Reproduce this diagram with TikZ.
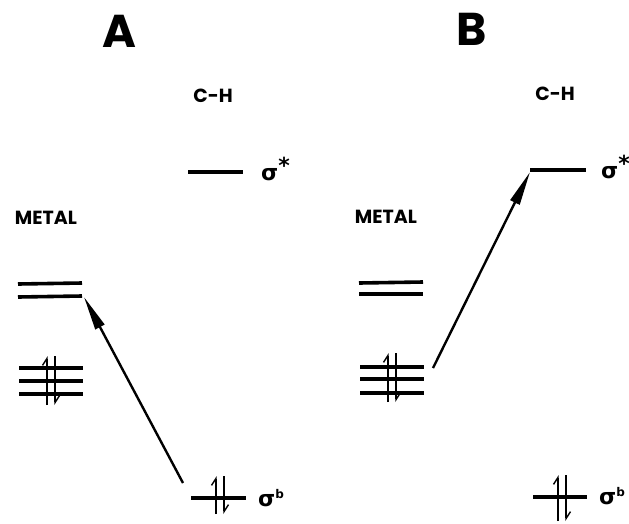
\documentclass[tikz,border=0pt]{standalone}
\usepackage{fontspec}
\setmainfont{Poppins}
\newfontfamily\greekfont{DejaVu Sans}
\usetikzlibrary{arrows.meta}

\begin{document}
\begin{tikzpicture}[x=1pt,y=-1pt,
  level/.style={line width=3.6pt},
  spin/.style={line width=1.4pt,-{Straight Barb[harpoon,length=7pt,width=9pt,line width=1.4pt]}},
  excite/.style={line width=2.4pt,-{Triangle[length=34pt,width=10pt]}},
  panel/.style={font=\fontsize{46}{46}\selectfont\bfseries},
  head/.style={font=\fontsize{19}{19}\selectfont\bfseries, inner sep=0pt},
  orb/.style={font=\greekfont\bfseries\fontsize{22}{22}\selectfont, anchor=west, inner sep=0pt},
  pics/epair/.style n args={2}{code={
    \draw[spin] (0,#2) -- (0,-#1);
    \draw[spin] (8,-#1) -- (8,#2);
  }}
]
\useasboundingbox (0,0) rectangle (629,523);

% ---------------- panel A ----------------
\node[panel] (titleA) at (119,31) {A};
\node[head] (chA) at (213,96) {C-H};
\node[head] (metalA) at (46,218) {METAL};

% C-H antibonding level
\draw[level] (188,172) -- (243,172);
\node[orb] (sstarA) at (261,169) {σ\raisebox{0.3em}{\fontsize{22}{22}\selectfont *}};

% empty metal levels
\draw[level] (18,284) -- (82,283);
\draw[level] (18,297) -- (82,296);
% filled metal levels
\draw[level] (19,368) -- (83,368);
\draw[level] (19,381) -- (83,381);
\draw[level] (19,394) -- (83,394);
\pic at (47,381) {epair={25}{24}};

% C-H bonding level
\draw[level] (191,498) -- (246,498);
\pic at (216,496) {epair={20}{18}};
\node[orb] (sbA) at (258,498) {σ\raisebox{0.4em}{\fontsize{12}{12}\selectfont b}};

% sigma(C-H) -> metal excitation
\coordinate (fromA) at (183,483);
\coordinate (toA) at (84,297);
\draw[excite] (fromA) -- (toA);

% ---------------- panel B ----------------
\node[panel] (titleB) at (472,29) {B};
\node[head] (chB) at (555,94) {C-H};
\node[head] (metalB) at (386,217) {METAL};

\draw[level] (530,170) -- (586,170);
\node[orb] (sstarB) at (601,167) {σ\raisebox{0.3em}{\fontsize{22}{22}\selectfont *}};

\draw[level] (359,283) -- (423,282);
\draw[level] (359,294) -- (423,294);
\draw[level] (360,367) -- (424,367);
\draw[level] (360,379) -- (424,379);
\draw[level] (360,393) -- (424,393);
\pic at (388,378) {epair={25}{24}};

\draw[level] (533,497) -- (587,497);
\pic at (558,497) {epair={22}{24}};
\node[orb] (sbB) at (599,496) {σ\raisebox{0.4em}{\fontsize{12}{12}\selectfont b}};

% metal -> sigma*(C-H) excitation
\coordinate (fromB) at (433,368);
\coordinate (toB) at (530,172);
\draw[excite] (fromB) -- (toB);
\end{tikzpicture}
\end{document}
